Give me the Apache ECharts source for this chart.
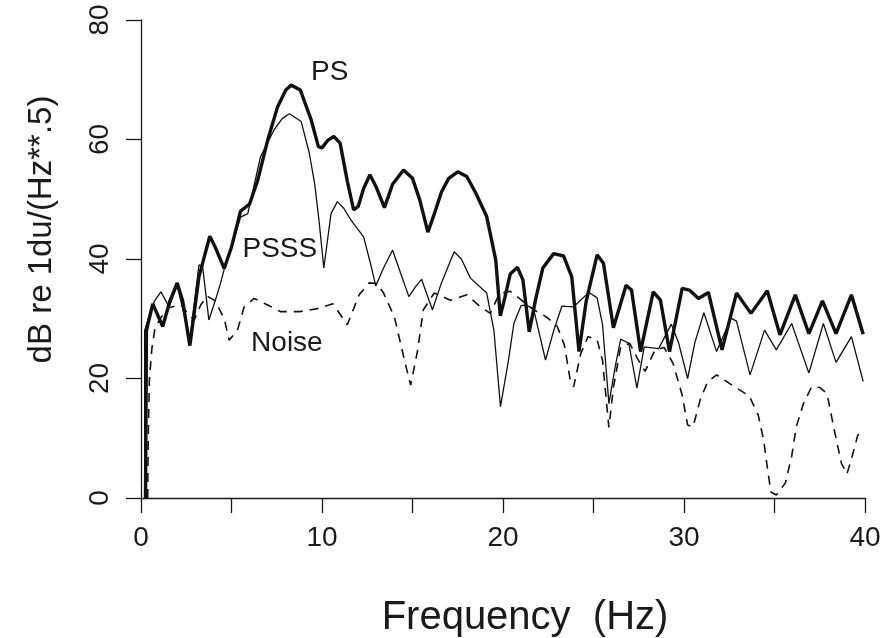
<!DOCTYPE html>
<html>
<head>
<meta charset="utf-8">
<script src="https://cdn.jsdelivr.net/npm/echarts@6/dist/echarts.min.js"></script>
<style>
  html, body { margin: 0; padding: 0; background: #fff; }
  #chart { width: 882px; height: 638px; }
</style>
</head>
<body>
<div id="chart"></div>
<script>
// [frequency (Hz), dB]
var psData = [
  [0.25, 0], [0.3, 28], [0.65, 32.5], [1.2, 28.7], [1.6, 33], [2.0, 36], [2.3, 33], [2.7, 25.5],
  [3.2, 37], [3.8, 43.8], [4.1, 42], [4.6, 38.4], [5.0, 42], [5.5, 48], [6.0, 49.2], [6.45, 53.2],
  [7.0, 59.9], [7.55, 65.5], [8.0, 68.3], [8.3, 69.1], [8.8, 68.3], [9.4, 63.3], [9.8, 58.8],
  [10.0, 58.6], [10.3, 59.8], [10.65, 60.5], [11.0, 59.4], [11.4, 53], [11.75, 48.2], [12.0, 48.8],
  [12.3, 51.8], [12.65, 54.1], [13.0, 52], [13.45, 48.6], [13.9, 52.5], [14.5, 54.9], [15.0, 53.5],
  [15.4, 49.9], [15.85, 44.5], [16.2, 47.5], [16.6, 51.2], [17.0, 53.5], [17.5, 54.6], [18.0, 53.8],
  [18.5, 51], [19.1, 47.1], [19.6, 39.8], [19.85, 30.5], [20.1, 33.5], [20.4, 37.5], [20.8, 38.6],
  [21.1, 36.5], [21.45, 27.8], [21.8, 33.2], [22.2, 38.5], [22.8, 40.9], [23.35, 40.5], [23.8, 37],
  [24.2, 24.5], [24.6, 33], [25.2, 40.7], [25.55, 39.3], [26.1, 28.5], [26.8, 35.6], [27.1, 34.8],
  [27.6, 24.5], [28.3, 34.5], [28.7, 33.1], [29.2, 24.5], [29.9, 35.1], [30.3, 34.8], [30.8, 33.4],
  [31.35, 34.4], [32.1, 24.8], [32.9, 34.3], [33.7, 30.9], [34.6, 34.7], [35.3, 27.3], [36.15, 34.0],
  [36.9, 27.5], [37.65, 33.0], [38.4, 27.5], [39.25, 34.0], [39.9, 27.4]
];

var psssData = [
  [0.2, 0], [0.2, 28], [0.5, 31], [0.75, 33], [1.1, 34.5], [1.55, 32], [2.0, 35.5], [2.4, 30.5],
  [2.7, 26.5], [3.2, 39.0], [3.4, 38.8], [3.75, 29.8], [4.1, 33], [4.4, 36], [4.7, 39.5], [5.0, 42],
  [5.5, 47], [5.9, 47.6], [6.6, 57.1], [7.35, 61.6], [7.8, 63.5], [8.2, 64.3], [8.85, 63], [9.3, 57.7],
  [9.6, 52.5], [9.85, 46], [10.1, 38.5], [10.5, 47.6], [10.85, 49.6], [11.2, 48.5], [11.6, 46.5],
  [12.3, 43.7], [12.7, 39], [12.97, 35.5], [13.4, 38.5], [13.9, 41.5], [14.3, 38], [14.8, 33.7],
  [15.2, 35.5], [15.5, 36.6], [16.1, 31.5], [16.6, 36], [17.3, 41.2], [17.7, 40], [18.2, 36.8],
  [19.1, 34.3], [19.5, 28], [19.86, 15.3], [20.3, 23], [20.6, 29.2], [21.0, 32.2], [21.3, 32.3],
  [21.7, 31.5], [22.35, 23.1], [22.8, 28], [23.25, 32.1], [23.9, 32], [24.6, 34], [24.8, 34.3],
  [25.2, 33.5], [25.5, 29], [25.85, 15.8], [26.2, 22], [26.5, 26.6], [26.95, 25.9], [27.4, 18.4],
  [27.8, 25.3], [28.6, 25.0], [29.3, 29.1], [29.7, 26], [30.2, 20], [30.6, 26], [31.1, 31.0],
  [31.8, 24.5], [32.6, 30.1], [32.9, 29.6], [33.65, 20.6], [34.45, 28.1], [35.1, 24.8], [35.95, 29.2],
  [36.9, 20.9], [37.7, 29.2], [38.4, 22.7], [39.25, 27], [39.9, 19.5]
];

var noiseData = [
  [0.37, 0], [0.4, 10], [0.46, 19.7], [0.6, 25], [0.75, 28], [1.0, 29.8], [1.5, 31.8], [2.2, 32.4],
  [2.6, 30.8], [2.94, 29.8], [3.3, 32.3], [3.65, 33.8], [4.1, 33], [4.6, 30], [4.87, 26.4],
  [5.33, 28.1], [5.7, 32], [6.25, 33.4], [7.0, 32.3], [7.7, 31.2], [8.8, 31.2], [9.75, 31.7],
  [10.6, 32.5], [11.4, 29], [12.05, 34], [12.6, 36], [13.05, 35.9], [13.4, 34.3], [14.0, 30.3],
  [14.6, 22.5], [14.9, 18.9], [15.27, 24.5], [15.6, 31.5], [16.2, 34.3], [17.1, 33.1], [18.0, 34],
  [18.75, 32], [19.3, 30.9], [19.8, 34.2], [20.4, 34.6], [20.9, 33.4], [21.7, 31.5], [22.4, 30.3],
  [23.0, 28.7], [23.4, 25.5], [23.7, 20], [23.9, 18.6], [24.3, 24.2], [24.7, 27], [25.2, 26.5],
  [25.5, 23], [25.85, 11.8], [26.1, 18.5], [26.5, 25.3], [27.0, 25.9], [27.4, 23.5], [27.85, 21.2],
  [28.4, 24.8], [28.9, 25.2], [29.4, 22.5], [29.9, 17.2], [30.2, 12.2], [30.5, 11.9], [30.9, 16.5],
  [31.3, 19.4], [31.8, 20.6], [32.7, 18.8], [33.6, 17.1], [34.1, 13.9], [34.4, 9.7], [34.6, 5.2],
  [34.8, 1.0], [35.1, 0.5], [35.6, 2.5], [35.95, 7], [36.2, 11.9], [36.6, 15.8], [37.05, 18.6],
  [37.5, 18.5], [37.9, 17.5], [38.3, 11.4], [38.7, 5.8], [39.0, 4.0], [39.25, 6.5], [39.6, 10.5],
  [39.9, 11.5]
];

// curve labels placed in data units
var curveLabels = [
  { name: 'PS', coord: [10.43, 71.2] },
  { name: 'PSSS', coord: [7.67, 41.7] },
  { name: 'Noise', coord: [8.06, 25.9] }
];

var FONT = '"Liberation Sans", Arial, Helvetica, sans-serif';
var INK = '#1a1a1a';

function labelPoint(item) {
  return {
    symbol: 'rect',
    symbolSize: 2,
    silent: true,
    itemStyle: { color: 'rgba(0,0,0,0)' },
    label: {
      show: true,
      position: 'inside',
      formatter: '{b}',
      fontFamily: FONT,
      fontSize: 28,
      color: INK
    },
    data: [{ name: item.name, coord: item.coord }]
  }
}

var chart = echarts.init(document.getElementById('chart'), null, { renderer: 'canvas' });

chart.setOption({
  animation: false,
  backgroundColor: '#fff',
  grid: {
    left: 141,
    right: 17,
    top: 20,
    bottom: 140,
    outerBoundsMode: 'none'
  },
  xAxis: {
    type: 'value',
    min: 0,
    max: 40,
    interval: 5,
    name: 'Frequency  (Hz)',
    nameLocation: 'middle',
    nameGap: 100,
    nameTextStyle: {
      fontFamily: FONT,
      fontSize: 40,
      color: INK,
      padding: [0, 0, 0, 44]
    },
    axisLine: { lineStyle: { color: INK, width: 1.3 } },
    axisTick: { length: 15, lineStyle: { color: INK, width: 1.3 } },
    axisLabel: {
      margin: 26,
      fontFamily: FONT,
      fontSize: 28,
      color: INK,
      formatter: function (v) {
        return v % 10 === 0 ? String(v) : ''
      }
    },
    splitLine: { show: false }
  },
  yAxis: {
    type: 'value',
    min: 0,
    max: 80,
    interval: 20,
    name: 'dB re 1du/(Hz**.5)',
    nameLocation: 'middle',
    nameGap: 83,
    nameTextStyle: {
      fontFamily: FONT,
      fontSize: 33,
      color: INK,
      padding: [0, 0, 0, 59]
    },
    axisLine: { show: true, lineStyle: { color: INK, width: 1.3 } },
    axisTick: { show: true, length: 15, lineStyle: { color: INK, width: 1.3 } },
    axisLabel: {
      rotate: 90,
      margin: 27,
      fontFamily: FONT,
      fontSize: 28,
      color: INK
    },
    splitLine: { show: false }
  },
  series: [
    {
      name: 'PS',
      type: 'line',
      data: psData,
      showSymbol: false,
      lineStyle: { color: '#111', width: 3.4 },
      markPoint: labelPoint(curveLabels[0])
    },
    {
      name: 'PSSS',
      type: 'line',
      data: psssData,
      showSymbol: false,
      lineStyle: { color: '#111', width: 1.3 },
      markPoint: labelPoint(curveLabels[1])
    },
    {
      name: 'Noise',
      type: 'line',
      data: noiseData,
      showSymbol: false,
      lineStyle: { color: '#111', width: 1.6, type: [9, 7] },
      markPoint: labelPoint(curveLabels[2])
    }
  ]
});
</script>
</body>
</html>
